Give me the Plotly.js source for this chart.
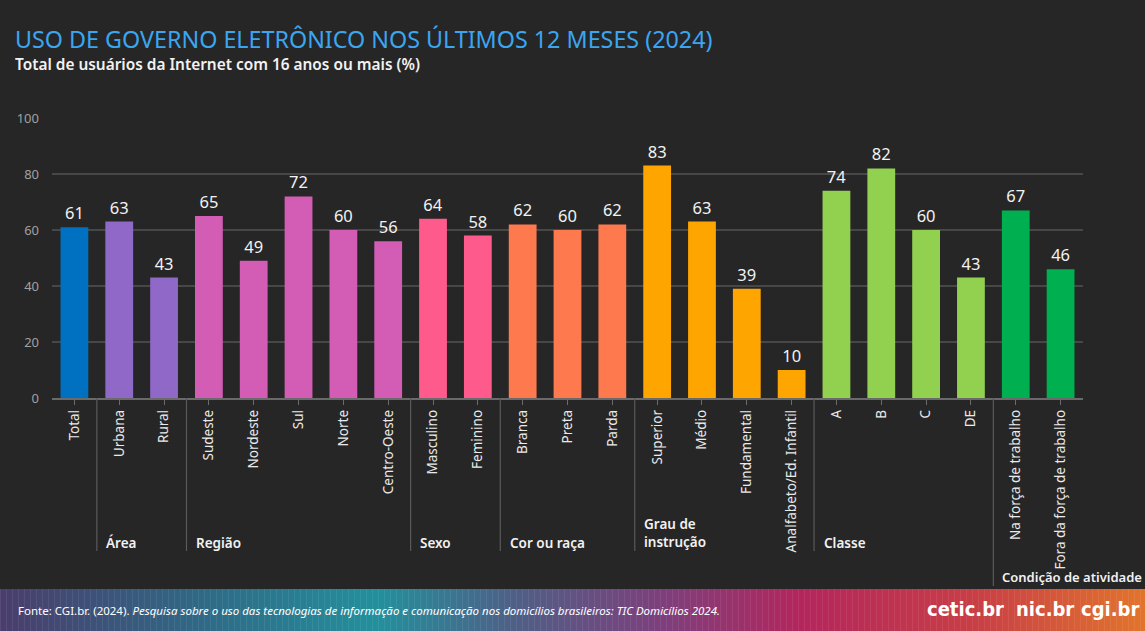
<!DOCTYPE html>
<html>
<head>
<meta charset="utf-8">
<script src="https://cdn.plot.ly/plotly-3.0.1.min.js"></script>
<style>
  html, body { margin: 0; padding: 0; background: #262626; }
  #chart { width: 1145px; height: 631px; }
</style>
</head>
<body>
<div id="chart"></div>
<script>
// ---- Data ----
const categories = ["Total", "Urbana", "Rural", "Sudeste", "Nordeste", "Sul", "Norte", "Centro-Oeste",
  "Masculino", "Feminino", "Branca", "Preta", "Parda", "Superior", "Médio", "Fundamental",
  "Analfabeto/Ed. Infantil", "A", "B", "C", "DE", "Na força de trabalho", "Fora da força de trabalho"];
const values = [61, 63, 43, 65, 49, 72, 60, 56, 64, 58, 62, 60, 62, 83, 63, 39, 10, 74, 82, 60, 43, 67, 46];
const groupOfBar = [0, 1, 1, 2, 2, 2, 2, 2, 3, 3, 4, 4, 4, 5, 5, 5, 5, 6, 6, 6, 6, 7, 7];
const groupLabels = ["", "Área", "Região", "Sexo", "Cor ou raça", "Grau de<br>instrução", "Classe", "Condição de atividade"];
const groupColors = ["#0070C0", "#9068C8", "#D35DB5", "#FF5A8C", "#FF794F", "#FFA500", "#92D050", "#00B050"];
const yTicks = [0, 20, 40, 60, 80, 100];

const titleText = "USO DE GOVERNO ELETRÔNICO NOS ÚLTIMOS 12 MESES (2024)";
const subtitleText = "Total de usuários da Internet com 16 anos ou mais (%)";
const sourceText = "Fonte: CGI.br. (2024). <i>Pesquisa sobre o uso das tecnologias de informação e comunicação nos domicílios brasileiros: TIC Domicílios 2024.</i>";
const logos = ["cetic.br", "nic.br", "cgi.br"];

// ---- Geometry helpers ----
const W = 1145, H = 631;
const M = {l: 52, r: 62, t: 118, b: 233};
const PW = W - M.l - M.r, PH = H - M.t - M.b;
const px = x => (x - M.l) / PW;          // pixel x -> paper x
const py = y => (H - M.b - y) / PH;      // pixel y -> paper y

const FONT = "Noto Sans, Open Sans, sans-serif";

// group boundaries
const shapes = [];
const annotations = [];
for (let i = 1; i < groupOfBar.length; i++) {
  if (groupOfBar[i] !== groupOfBar[i - 1]) {
    const g = groupOfBar[i];
    const last = g === groupLabels.length - 1;
    shapes.push({type: "line", xref: "x", yref: "paper", x0: i - 0.5, x1: i - 0.5,
      y0: 0, y1: py(last ? 586 : 551), line: {color: "#5a5a5a", width: 1.2}});
    let yy = py(543), anchor = "middle";
    if (g === 5) { yy = py(552); anchor = "bottom"; }
    if (last) { yy = py(577); }
    annotations.push({xref: "x", yref: "paper", x: i - 0.5 + (last ? 0.17 : 0.19), y: yy, xanchor: "left", yanchor: anchor,
      text: groupLabels[g], showarrow: false, align: "left", borderpad: 0,
      font: {family: FONT, size: last ? 13 : 13.5, color: "#f2f2f2", weight: 600}});
  }
}

// title & subtitle
annotations.push({xref: "paper", yref: "paper", x: px(14), y: py(39), xanchor: "left", yanchor: "middle",
  text: titleText, showarrow: false, borderpad: 0, font: {family: FONT, size: 23.3, color: "#3AA6F2"}});
annotations.push({xref: "paper", yref: "paper", x: px(14), y: py(64), xanchor: "left", yanchor: "middle",
  text: subtitleText, showarrow: false, borderpad: 0, font: {family: FONT, size: 15.4, color: "#f2f2f2", weight: 600}});

// footer text
annotations.push({xref: "paper", yref: "paper", x: px(16), y: py(610), xanchor: "left", yanchor: "middle",
  text: sourceText, showarrow: false, font: {family: FONT, size: 11.5, color: "#ffffff"}});
const logoX = [926, 1015, 1080];
logos.forEach((t, k) => annotations.push({xref: "paper", yref: "paper", x: px(logoX[k]), y: py(609),
  xanchor: "left", yanchor: "middle", text: t, showarrow: false, borderpad: 0,
  font: {family: "DejaVu Sans Condensed, Liberation Sans Narrow, sans-serif", size: 20, color: "#ffffff", weight: 700}}));

// footer gradient band as an svg image
const bandSvg = `<svg xmlns="http://www.w3.org/2000/svg" width="1145" height="42" viewBox="0 0 1145 42">
<defs><linearGradient id="g" x1="0" y1="0" x2="1" y2="0">
<stop offset="0" stop-color="#4a3d6c"/><stop offset="0.18" stop-color="#2f6a86"/>
<stop offset="0.33" stop-color="#23909c"/><stop offset="0.45" stop-color="#4f5f86"/>
<stop offset="0.58" stop-color="#7e3f7c"/><stop offset="0.70" stop-color="#b3265c"/>
<stop offset="0.85" stop-color="#c83e46"/><stop offset="1" stop-color="#e2742c"/>
</linearGradient>
<pattern id="p" width="6" height="42" patternUnits="userSpaceOnUse"><rect x="0" y="0" width="1" height="42" fill="#ffffff" fill-opacity="0.07"/></pattern>
</defs>
<rect width="1145" height="42" fill="url(#g)"/><rect width="1145" height="42" fill="url(#p)"/>
</svg>`;
const bandUri = "data:image/svg+xml;charset=utf-8," + encodeURIComponent(bandSvg);

const trace = {
  type: "bar",
  x: categories,
  y: values,
  marker: {color: groupOfBar.map(g => groupColors[g])},
  text: values.map(String),
  textposition: "outside",
  cliponaxis: false,
  textfont: {family: FONT, size: 16.5, color: "#f2f2f2"},
  hoverinfo: "x+y"
};

const layout = {
  width: W, height: H,
  margin: M,
  paper_bgcolor: "#262626",
  plot_bgcolor: "#262626",
  bargap: 0.38,
  showlegend: false,
  font: {family: FONT, color: "#e6e6e6"},
  xaxis: {
    type: "category",
    tickangle: -90,
    tickfont: {family: FONT, size: 13.5, color: "#eaeaea"},
    ticks: "outside", ticklen: 5, tickcolor: "#6a6a6a",
    showline: true, linecolor: "#6a6a6a", linewidth: 1.5,
    showgrid: false, zeroline: false,
    range: [-0.5, categories.length - 0.5],
    fixedrange: true
  },
  yaxis: {
    range: [0, 100],
    tickvals: yTicks,
    tickfont: {family: FONT, size: 13, color: "#a0a0a0"},
    showgrid: true, gridcolor: "#474747", gridwidth: 1.5,
    zeroline: false, showline: false, ticks: "",
    ticklabelstandoff: 12,
    fixedrange: true
  },
  shapes: shapes,
  annotations: annotations,
  images: [{source: bandUri, xref: "paper", yref: "paper", x: px(0), y: py(589),
    sizex: W / PW, sizey: 42 / PH, sizing: "stretch", xanchor: "left", yanchor: "top", layer: "below"}]
};

Plotly.newPlot("chart", [trace], layout, {displayModeBar: false, staticPlot: true});
</script>
</body>
</html>
